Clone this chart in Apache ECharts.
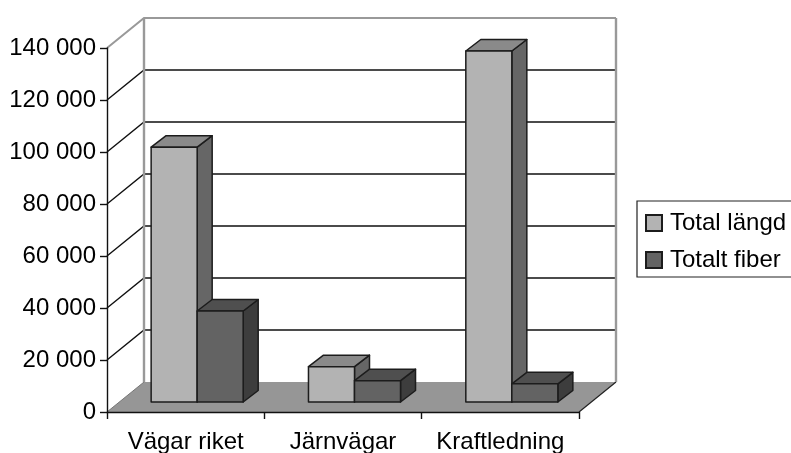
<!DOCTYPE html>
<html>
<head>
<meta charset="utf-8">
<style>html,body{margin:0;padding:0;background:#fff;overflow:hidden}#chart{width:791px;height:453px}</style>
<script src="https://cdn.jsdelivr.net/npm/echarts@6/dist/echarts.min.js"></script>
</head>
<body>
<div id="chart"></div>
<script>
// Fiber lengths per network type
const categories = ['Vägar riket', 'Järnvägar', 'Kraftledning'];
const totalLength = [98000, 13600, 135000];
const totalFiber = [35000, 8200, 7000];
const valueTicks = [0, 20000, 40000, 60000, 80000, 100000, 120000, 140000];
const tickLabels = ['0', '20 000', '40 000', '60 000', '80 000', '100 000', '120 000', '140 000'];

// Oblique projection: wall depth, bar plane inset and bar depth, in pixels
const WALL = [37, 30];
const INSET = [11.5, 10];
const BAR_DEPTH = [15, 11.5];
const BAR_RATIO = 0.2925;
const EDGE = '#1c1c1c';
const FONT = '"Liberation Sans", Arial, sans-serif';

function renderWall(params, api) {
  const v = api.value(0);
  const cs = params.coordSys;
  const y = api.coord([0, v])[1];
  const l = cs.x, r = cs.x + cs.width;
  const [dx, dy] = WALL;
  const children = [];
  if (v === 0) {
    children.push({
      type: 'polygon',
      shape: { points: [[l, y], [l + dx, y - dy], [r + dx, y - dy], [r, y]] },
      style: { fill: '#969696', stroke: null }
    });
    children.push({
      type: 'line',
      shape: { x1: r, y1: y, x2: r + dx, y2: y - dy },
      style: { stroke: '#222', lineWidth: 1.2 }
    });
    children.push({
      type: 'line',
      shape: { x1: l, y1: y, x2: l + dx, y2: y - dy },
      style: { stroke: '#777', lineWidth: 1 }
    });
  } else {
    const top = v === valueTicks[valueTicks.length - 1];
    const stroke = top ? '#999' : '#111';
    children.push({
      type: 'polyline',
      shape: { points: [[l, y], [l + dx, y - dy], [r + dx, y - dy]] },
      style: { fill: null, stroke, lineWidth: top ? 2 : 1.4 }
    });
    if (top) {
      const floorY = cs.y + cs.height - dy;
      [l + dx, r + dx].forEach(function (x) {
        children.push({
          type: 'line',
          shape: { x1: x, y1: y - dy, x2: x, y2: floorY },
          style: { stroke: '#999', lineWidth: 2.4 }
        });
      });
    }
  }
  return { type: 'group', children };
}

function barRenderer(side, shades) {
  return function (params, api) {
    const c = api.coord([api.value(0), api.value(1)]);
    const base = api.coord([api.value(0), 0]);
    const w = api.size([1, 0])[0] * BAR_RATIO;
    const cx = c[0] + INSET[0];
    const x0 = side < 0 ? cx - w : cx;
    const x1 = x0 + w;
    const yt = c[1] - INSET[1];
    const yb = base[1] - INSET[1];
    const [dx, dy] = BAR_DEPTH;
    const common = { stroke: EDGE, lineWidth: 1.5, lineJoin: 'round' };
    return {
      type: 'group',
      children: [
        { type: 'polygon', shape: { points: [[x1, yt], [x1 + dx, yt - dy], [x1 + dx, yb - dy], [x1, yb]] },
          style: Object.assign({ fill: shades.side }, common) },
        { type: 'polygon', shape: { points: [[x0, yt], [x0 + dx, yt - dy], [x1 + dx, yt - dy], [x1, yt]] },
          style: Object.assign({ fill: shades.top }, common) },
        { type: 'rect', shape: { x: x0, y: yt, width: w, height: yb - yt },
          style: Object.assign({ fill: shades.front }, common) }
      ]
    };
  };
}

const chart = echarts.init(document.getElementById('chart'), null, { renderer: 'canvas' });
chart.setOption({
  animation: false,
  backgroundColor: '#fff',
  grid: { left: 107, top: 48, width: 472, height: 364, containLabel: false, outerBoundsMode: 'none' },
  legend: {
    left: 637, top: 201,
    orient: 'vertical',
    data: ['Total längd', 'Totalt fiber'],
    icon: 'rect',
    itemWidth: 16, itemHeight: 16, itemGap: 13,
    padding: [10, 60, 5, 8],
    borderColor: '#222', borderWidth: 1.2,
    textStyle: { fontFamily: FONT, fontSize: 24, lineHeight: 24, color: '#000', padding: [0, 0, 0, 3] },
    selectedMode: false
  },
  xAxis: {
    type: 'category',
    data: categories,
    z: 5,
    axisLine: { lineStyle: { color: '#111', width: 1.4 } },
    axisTick: { show: true, length: 7, alignWithLabel: false, lineStyle: { color: '#111', width: 1.4 } },
    axisLabel: { fontFamily: FONT, fontSize: 24, color: '#000', margin: 18, interval: 0 }
  },
  yAxis: {
    type: 'value',
    min: 0, max: 140000, interval: 20000,
    z: 5,
    splitLine: { show: false },
    axisLine: { show: true, lineStyle: { color: '#111', width: 1.4 } },
    axisTick: { show: true, length: 7, lineStyle: { color: '#111', width: 1.4 } },
    axisLabel: {
      fontFamily: FONT, fontSize: 24, color: '#000', margin: 11, padding: [5, 0, 0, 0],
      formatter: function (v) { return tickLabels[valueTicks.indexOf(v)]; }
    }
  },
  series: [
    {
      name: 'walls', type: 'custom', silent: true, z: 1,
      data: valueTicks.map(function (v) { return [v]; }),
      encode: { y: 0 },
      renderItem: renderWall
    },
    {
      name: 'Total längd', type: 'custom', z: 2,
      itemStyle: { color: '#b3b3b3', borderColor: EDGE, borderWidth: 1.5 },
      data: totalLength.map(function (v, i) { return [i, v]; }),
      encode: { x: 0, y: 1 },
      renderItem: barRenderer(-1, { front: '#b3b3b3', top: '#8a8a8a', side: '#666666' })
    },
    {
      name: 'Totalt fiber', type: 'custom', z: 3,
      itemStyle: { color: '#636363', borderColor: EDGE, borderWidth: 1.5 },
      data: totalFiber.map(function (v, i) { return [i, v]; }),
      encode: { x: 0, y: 1 },
      renderItem: barRenderer(1, { front: '#636363', top: '#4f4f4f', side: '#3d3d3d' })
    }
  ]
});
</script>
</body>
</html>
